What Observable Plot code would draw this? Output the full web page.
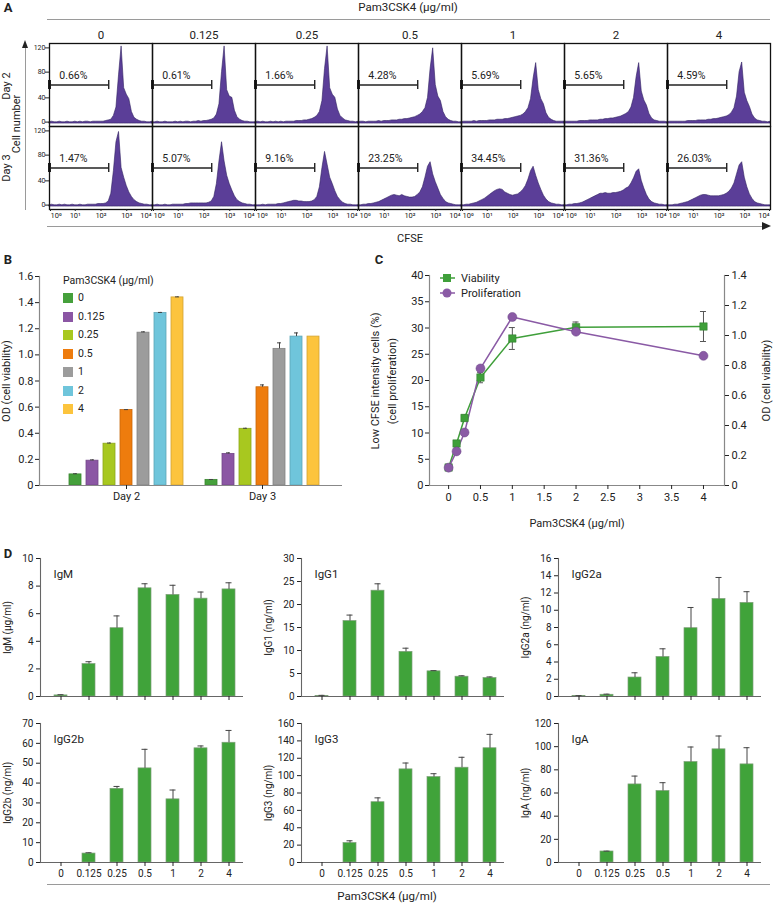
<!DOCTYPE html>
<html><head><meta charset="utf-8">
<script src="https://cdn.jsdelivr.net/npm/d3@7"></script>
<script src="https://cdn.jsdelivr.net/npm/@observablehq/plot@0.6"></script>
<style>
body{margin:0;background:#fff;font-family:Roboto,"Noto Sans",sans-serif;color:#222}
#page{position:relative;width:773px;height:903px;overflow:hidden;background:#fff}
#page svg{position:absolute;overflow:visible}
.t{position:absolute;white-space:nowrap;line-height:1;transform:translate(-50%,-50%)}
.r{position:absolute;white-space:nowrap;line-height:1;transform:translate(-50%,-50%) rotate(-90deg)}
.s{position:absolute;white-space:nowrap;line-height:1;transform:translate(0,-50%)}
</style></head><body><div id="page"></div>
<script>
// ---------- shared categories ----------
const concLabels = ["0", "0.125", "0.25", "0.5", "1", "2", "4"];
const days = ["Day 2", "Day 3"];

// ---------- panel A: CFSE histograms (log10 CFSE bins, counts) ----------
const cfseBins = [0,0.1,0.2,0.3,0.4,0.5,0.6,0.7,0.8,0.9,1,1.1,1.2,1.3,1.4,1.5,1.6,1.7,1.8,1.9,2,2.1,2.2,2.3,2.4,2.5,2.6,2.7,2.8,2.9,3,3.1,3.2,3.3,3.4,3.5,3.6,3.7,3.8,3.9,4];
const cfseTickLabels = ["10⁰", "10¹", "10²", "10³", "10⁴"];
const countTicksMid = [40, 80];
const day2Counts = [
  [2,3,2,2,3,2,2,3,2,2, 3,2,3,2,3,3,2,3,3,3, 3,3,4,5,6,12,25,75,120,55, 45,38,18,9,6,4,3,3,2,2,3],
  [2,2,3,2,2,3,2,2,2,3, 2,3,2,3,3,2,3,3,4,3, 4,4,5,6,8,14,30,80,120,52, 42,40,20,10,6,4,3,3,2,2,2],
  [2,3,2,3,2,2,3,2,3,2, 3,2,3,3,3,3,4,4,4,5, 5,6,7,9,12,18,35,85,120,55, 45,40,22,12,8,5,4,3,3,2,3],
  [2,3,3,2,3,3,3,3,4,3, 4,4,4,5,5,5,6,6,7,7, 8,9,10,12,14,18,24,40,85,117, 60,42,35,18,10,6,4,3,3,2,2],
  [2,3,3,3,3,4,3,4,4,4, 4,5,5,5,6,6,6,7,7,8, 9,10,11,12,14,18,24,38,70,94, 52,38,30,16,9,6,4,3,3,3,3],
  [3,3,3,3,3,3,4,4,4,4, 5,5,5,5,6,6,7,7,8,8, 9,10,11,13,15,18,25,40,72,94, 50,36,28,15,8,5,4,3,3,3,2],
  [2,3,3,3,3,3,3,3,4,4, 4,4,5,5,5,5,6,6,7,7, 8,9,10,11,13,17,24,42,80,95, 48,35,26,14,8,5,4,3,3,2,3]
];
const day3Counts = [
  [2,3,2,2,3,2,3,2,2,3, 2,2,3,2,2,3,3,3,3,4, 4,4,5,8,20,55,100,116,60,45, 32,22,15,10,7,5,4,3,3,2,2],
  [2,2,3,2,2,3,2,2,3,3, 3,3,3,4,4,5,5,5,5,5, 5,5,6,8,15,35,70,100,70,48, 35,25,16,10,7,5,4,3,3,2,2],
  [2,2,2,3,2,3,3,3,3,4, 4,5,6,7,8,9,9,8,8,7, 7,7,8,10,15,30,60,85,65,45, 35,24,15,10,6,4,3,3,2,2,2],
  [2,2,3,3,4,4,5,6,7,9, 11,13,15,17,18,17,16,18,16,15, 14,14,15,18,22,30,45,62,69,50, 38,28,18,12,7,5,4,3,2,2,2],
  [2,2,3,3,4,5,6,8,10,12, 15,18,21,24,26,27,26,22,20,18, 17,18,19,22,26,32,42,55,62,48, 36,26,17,11,7,5,4,3,3,2,2],
  [2,2,3,3,4,4,5,6,8,10, 12,14,16,18,20,20,21,20,20,21, 21,22,23,25,28,30,36,44,54,58, 40,28,18,11,7,5,4,3,3,2,2],
  [2,2,2,3,3,4,5,6,7,9, 11,13,15,17,18,18,17,16,16,16, 16,17,18,20,23,28,36,50,64,69, 45,30,19,12,7,5,4,3,2,2,2]
];
const day2Pct = ["0.66%", "0.61%", "1.66%", "4.28%", "5.69%", "5.65%", "4.59%"];
const day3Pct = ["1.47%", "5.07%", "9.16%", "23.25%", "34.45%", "31.36%", "26.03%"];
const gateEnd = 2.3, gateLevel = 60;

// ---------- panel B: OD by day ----------
const odColors = ["#45a03b", "#8b56a4", "#a8c81f", "#ee7c0d", "#9c9c9c", "#6fc5db", "#fcc43d"];
const odDay2 = [0.085, 0.19, 0.32, 0.578, 1.17, 1.32, 1.44];
const odDay2Err = [0.005, 0.006, 0.005, 0.003, 0.006, 0.005, 0.004];
const odDay3 = [0.043, 0.242, 0.434, 0.752, 1.046, 1.14, 1.14];
const odDay3Err = [0.003, 0.008, 0.004, 0.018, 0.046, 0.028, 0];
const odTicks = [0, 0.2, 0.4, 0.6, 0.8, 1.0, 1.2, 1.4, 1.6];

// ---------- panel C: dose response ----------
const doseX = [0, 0.125, 0.25, 0.5, 1, 2, 4];
const prolifPct = [3.4, 6.5, 10.1, 22.3, 32.1, 29.3, 24.7];
const viabOD = [0.12, 0.28, 0.45, 0.72, 0.98, 1.055, 1.06];
const viabODErr = [0.01, 0.015, 0.02, 0.035, 0.073, 0.035, 0.1];
const pctTicks = [0, 5, 10, 15, 20, 25, 30, 35, 40];
const odTicksC = [0, 0.2, 0.4, 0.6, 0.8, 1.0, 1.2, 1.4];
const doseTicks = [0, 0.5, 1, 1.5, 2, 2.5, 3, 3.5, 4];

// ---------- panel D: isotypes ----------
const isoNames = ["IgM", "IgG1", "IgG2a", "IgG2b", "IgG3", "IgA"];
const isoLabels = ["IgM (μg/ml)", "IgG1 (ng/ml)", "IgG2a (ng/ml)", "IgG2b (ng/ml)", "IgG3 (ng/ml)", "IgA (ng/ml)"];
const igM = [0.08, 2.35, 4.95, 7.84, 7.36, 7.09, 7.76];
const igMErr = [0.05, 0.17, 0.89, 0.33, 0.7, 0.48, 0.48];
const igG1 = [0.1, 16.4, 23.0, 9.7, 5.47, 4.3, 4.0];
const igG1Err = [0.15, 1.3, 1.5, 0.8, 0.15, 0.2, 0.25];
const igG2a = [0.05, 0.2, 2.2, 4.58, 7.92, 11.3, 10.85];
const igG2aErr = [0.05, 0.07, 0.55, 0.95, 2.4, 2.5, 1.3];
const igG2b = [0, 4.5, 37.1, 47.4, 31.8, 57.5, 60.3];
const igG2bErr = [0, 0.4, 1.2, 9.6, 4.7, 1.2, 6.2];
const igG3 = [0, 22.4, 69.4, 107.2, 98.3, 109.1, 131.5];
const igG3Err = [0, 2.6, 5, 7.3, 3.9, 12, 16];
const igA = [0, 9.5, 67.4, 61.7, 86.7, 97.7, 84.7];
const igAErr = [0, 0.3, 7.2, 7.2, 13, 11.5, 14.4];
const igMTicks = [0, 2, 4, 6, 8, 10];
const igG1Ticks = [0, 5, 10, 15, 20, 25, 30];
const igG2aTicks = [0, 2, 4, 6, 8, 10, 12, 14, 16];
const igG2bTicks = [0, 10, 20, 30, 40, 50, 60, 70];
const igG3Ticks = [0, 20, 40, 60, 80, 100, 120, 140, 160];
const igATicks = [0, 20, 40, 60, 80, 100, 120];

// ================= rendering =================
const FONT = "Roboto, 'Noto Sans', sans-serif";
const page = document.getElementById("page");
function place(svg, x, y) { svg.style.left = x + "px"; svg.style.top = y + "px"; page.appendChild(svg); return svg; }
function txt(s, x, y, size, cls = "t", extra = "") {
  const d = document.createElement("div"); d.className = cls; d.textContent = s;
  d.style.cssText += `left:${x}px;top:${y}px;font-size:${size}px;${extra}`; page.appendChild(d); return d;
}
function box(css) { const d = document.createElement("div"); d.style.cssText = "position:absolute;" + css; page.appendChild(d); return d; }
const baseStyle = {fontFamily: FONT, color: "#222", background: "transparent", overflow: "visible"};

// ---- Panel A ----
const hist = [];
[day2Counts, day3Counts].forEach((rows, di) => rows.forEach((counts, ci) =>
  counts.forEach((c, k) => hist.push({day: days[di], conc: concLabels[ci], x: cfseBins[k], count: c}))));
const gates = [];
[day2Pct, day3Pct].forEach((p, di) => p.forEach((t, ci) => gates.push({day: days[di], conc: concLabels[ci], pct: t})));

const yAxA = {fontSize: 7, tickSize: 4, tickPadding: 0, label: null};
const plotA = Plot.plot({
  width: 773, height: 205, marginLeft: 48, marginRight: 3, marginTop: 23, marginBottom: 16,
  style: baseStyle,
  fx: {domain: concLabels, padding: 0, label: null},
  fy: {domain: days, padding: 0, label: null, axis: null},
  x: {domain: [0, 4]},
  y: {domain: [-4.5, 124.5]},
  marks: [
    Plot.areaY(hist, {fx: "conc", fy: "day", x: "x", y: "count", fill: "#5b3e98", stroke: "#2f2060", strokeWidth: 0.6}),
    Plot.ruleY(gates, {fx: "conc", fy: "day", y: gateLevel, x1: 0, x2: gateEnd, stroke: "#222", strokeWidth: 1.4}),
    Plot.ruleX(gates, {fx: "conc", fy: "day", x: gateEnd, y1: gateLevel - 7, y2: gateLevel + 7, stroke: "#222", strokeWidth: 1.4}),
    Plot.ruleX(gates, {fx: "conc", fy: "day", x: 0, y1: gateLevel - 7, y2: gateLevel + 7, stroke: "#222", strokeWidth: 3}),
    Plot.text(gates, {fx: "conc", fy: "day", x: 0.38, y: 74, text: "pct", textAnchor: "start", fontSize: 10.5, fill: "#222"}),
    Plot.frame({stroke: "#111", strokeWidth: 1.3}),
    Plot.axisY({ticks: countTicksMid, ...yAxA}),
    Plot.axisY({ticks: [0], dy: -1.5, ...yAxA}),
    Plot.axisY({ticks: [120], dy: 1.5, ...yAxA}),
    Plot.axisX({ticks: [1, 2, 3], tickFormat: d => cfseTickLabels[d], fontSize: 7.5, tickSize: 2, tickPadding: 1, label: null}),
    Plot.axisX({ticks: [0], tickFormat: d => cfseTickLabels[d], textAnchor: "start", dx: 1, fontSize: 7.5, tickSize: 2, tickPadding: 1, label: null}),
    Plot.axisX({ticks: [4], tickFormat: d => cfseTickLabels[d], textAnchor: "end", dx: -1, fontSize: 7.5, tickSize: 2, tickPadding: 1, label: null}),
    Plot.axisFx({anchor: "top", label: null, tickSize: 0, tickPadding: 5, fontSize: 11.5})
  ]
});
place(plotA, 0, 20);

txt("A", 8, 7, 13, "t", "font-weight:bold");
txt("Pam3CSK4 (μg/ml)", 408, 8, 11.5);
box("left:47px;top:19px;width:723px;height:0;border-top:1.5px solid #9a9a9a");
txt("Day 2", 6, 86, 11, "r");
txt("Day 3", 6, 168, 11, "r");
txt("Cell number", 16, 124, 11, "r");
box("left:24.5px;top:47px;width:0;height:163px;border-left:1.5px solid #9a9a9a");
box("left:21.5px;top:40px;width:0;height:0;border-left:3.5px solid transparent;border-right:3.5px solid transparent;border-bottom:8px solid #222");
box("left:47px;top:225.5px;width:716px;height:0;border-top:1.5px solid #9a9a9a");
box("left:762px;top:222px;width:0;height:0;border-top:4px solid transparent;border-bottom:4px solid transparent;border-left:9px solid #222");
txt("CFSE", 410, 238, 11);

// ---- Panel B ----
const odRows = [];
[odDay2, odDay3].forEach((vals, di) => vals.forEach((v, ci) => odRows.push({
  key: days[di] + "|" + concLabels[ci], conc: concLabels[ci], v, e: [odDay2Err, odDay3Err][di][ci],
  color: odColors[ci], edge: d3.color(odColors[ci]).darker(0.5).formatHex()})));
const keysB = [...concLabels.map(c => days[0] + "|" + c), "gap", ...concLabels.map(c => days[1] + "|" + c)];
const plotB = Plot.plot({
  width: 350, height: 245, marginLeft: 39, marginRight: 8, marginTop: 16, marginBottom: 20,
  style: baseStyle,
  x: {domain: keysB, paddingInner: 0.275, paddingOuter: 1.087, align: 0.577},
  y: {domain: [0, 1.6]},
  color: {type: "identity"},
  marks: [
    Plot.barY(odRows, {x: "key", y: "v", fill: "color", stroke: "edge", strokeWidth: 0.8}),
    Plot.ruleX(odRows.filter(d => d.e > 0), {x: "key", y1: "v", y2: d => d.v + d.e, stroke: "#444", strokeWidth: 1}),
    Plot.tickY(odRows.filter(d => d.e > 0), {x: "key", y: d => d.v + d.e, insetLeft: 4, insetRight: 4, stroke: "#444", strokeWidth: 1}),
    Plot.ruleY([0], {stroke: "#888", strokeWidth: 1.2}),
    Plot.frame({anchor: "left", stroke: "#888", strokeWidth: 1.2}),
    Plot.axisY({ticks: odTicks, tickFormat: d => d === 0 ? "0" : d.toFixed(1), fontSize: 11, tickSize: 4, tickPadding: 2,
      label: "OD (cell viability)", labelAnchor: "center", labelArrow: "none", labelOffset: 37}),
    Plot.axisX({ticks: [days[0] + "|0.5", days[1] + "|0.5"], tickFormat: k => k.split("|")[0], tickSize: 4, tickPadding: 3, fontSize: 11, label: null})
  ]
});
place(plotB, 0, 260);
txt("B", 8, 259, 13, "t", "font-weight:bold");
txt("Pam3CSK4 (μg/ml)", 63, 281, 10.5, "s");
concLabels.forEach((c, i) => {
  const y = 298 + i * 18.5;
  box(`left:63px;top:${y - 5}px;width:10px;height:10px;background:${odColors[i]}`);
  txt(c, 78, y, 10.5, "s");
});

// ---- Panel C ----
const kC = 40 / 1.4;
const cRows = doseX.map((x, i) => ({x, p: prolifPct[i], v: viabOD[i] * kC, lo: (viabOD[i] - viabODErr[i]) * kC, hi: (viabOD[i] + viabODErr[i]) * kC}));
const GREEN = "#3f9f3a", PURPLE = "#8a5aa5";
const plotC = Plot.plot({
  width: 393, height: 270, marginLeft: 49, marginRight: 49, marginTop: 15, marginBottom: 45,
  style: baseStyle,
  x: {domain: [-0.3, 4.33]},
  y: {domain: [0, 40]},
  marks: [
    Plot.frame({anchor: "left", stroke: "#888", strokeWidth: 1.2}),
    Plot.frame({anchor: "right", stroke: "#888", strokeWidth: 1.2}),
    Plot.ruleY([0], {stroke: "#888", strokeWidth: 1.2}),
    Plot.ruleX(cRows, {x: "x", y1: "lo", y2: "hi", stroke: "#555", strokeWidth: 1}),
    Plot.ruleY(cRows, {y: "hi", x1: "x", x2: "x", insetLeft: -3, insetRight: -3, stroke: "#555", strokeWidth: 1}),
    Plot.ruleY(cRows, {y: "lo", x1: "x", x2: "x", insetLeft: -3, insetRight: -3, stroke: "#555", strokeWidth: 1}),
    Plot.line(cRows, {x: "x", y: "v", stroke: GREEN, strokeWidth: 1.5}),
    Plot.line(cRows, {x: "x", y: "p", stroke: PURPLE, strokeWidth: 1.5}),
    Plot.dot(cRows, {x: "x", y: "v", symbol: "square", r: 4.2, fill: GREEN, stroke: "#2d7a2a", strokeWidth: 0.5}),
    Plot.dot(cRows, {x: "x", y: "p", r: 4.5, fill: PURPLE, stroke: "#6b4487", strokeWidth: 0.5}),
    Plot.axisY({ticks: pctTicks, fontSize: 11, tickSize: 4, tickPadding: 2, label: null}),
    Plot.axisY({anchor: "right", ticks: odTicksC.map(v => v * kC), tickFormat: v => v === 0 ? "0" : (v / kC).toFixed(1),
      fontSize: 11, tickSize: 4, tickPadding: 3, label: "OD (cell viability)", labelAnchor: "center", labelArrow: "none", labelOffset: 45}),
    Plot.axisX({ticks: doseTicks, tickFormat: d => String(d), fontSize: 11, tickSize: 4, tickPadding: 4,
      label: "Pam3CSK4 (μg/ml)", labelAnchor: "center", labelArrow: "none", labelOffset: 41})
  ]
});
place(plotC, 380, 260);
txt("C", 379, 259, 13, "t", "font-weight:bold");
txt("Low CFSE intensity cells (%)", 375, 381, 11, "r");
txt("(cell proliferation)", 392, 381, 11, "r");
// legend C
const legC = document.createElementNS("http://www.w3.org/2000/svg", "svg");
legC.setAttribute("width", 26); legC.setAttribute("height", 30);
legC.innerHTML = `<line x1="2" x2="17" y1="5" y2="5" stroke="${GREEN}" stroke-width="1.5"/><rect x="5" y="1" width="8" height="8" fill="${GREEN}"/>
<line x1="2" x2="17" y1="20" y2="20" stroke="${PURPLE}" stroke-width="1.5"/><circle cx="9" cy="20" r="4.5" fill="${PURPLE}"/>`;
place(legC, 438, 273);
txt("Viability", 461, 278, 11, "s");
txt("Proliferation", 461, 293, 11, "s");

// ---- Panel D ----
function isoPlot(name, label, vals, errs, ticks, showX, ml) {
  const rows = concLabels.map((c, i) => ({c, v: vals[i], e: errs[i]}));
  return Plot.plot({
    width: ml + 203 + 5, height: showX ? 172 : 159,
    marginLeft: ml, marginRight: 5, marginTop: 13, marginBottom: showX ? 20 : 8,
    style: baseStyle,
    x: {domain: concLabels, paddingInner: 0.54, paddingOuter: 0.39, align: 0.62},
    y: {domain: [0, ticks[ticks.length - 1]]},
    marks: [
      Plot.barY(rows, {x: "c", y: "v", fill: "#40a33a", stroke: "#7d9f78", strokeWidth: 0.7}),
      Plot.ruleX(rows.filter(d => d.e > 0), {x: "c", y1: "v", y2: d => d.v + d.e, stroke: "#444", strokeWidth: 1}),
      Plot.tickY(rows.filter(d => d.e > 0), {x: "c", y: d => d.v + d.e, insetLeft: 3.5, insetRight: 3.5, stroke: "#444", strokeWidth: 1}),
      Plot.ruleY([0], {stroke: "#666", strokeWidth: 1.1}),
      Plot.frame({anchor: "left", stroke: "#666", strokeWidth: 1.1}),
      Plot.axisY({ticks, fontSize: 10, tickSize: 4, tickPadding: 3, label, labelAnchor: "center", labelArrow: "none", labelOffset: 37}),
      Plot.axisX({tickSize: 4, tickPadding: 3, fontSize: 10, label: null, tickFormat: showX ? (d => d) : (() => "")}),
      Plot.text([name], {frameAnchor: "top-left", dx: 13, dy: 11, fontSize: 11.5, textAnchor: "start", fill: "#222"})
    ]
  });
}
const isoVals = [igM, igG1, igG2a, igG2b, igG3, igA];
const isoErrs = [igMErr, igG1Err, igG2aErr, igG2bErr, igG3Err, igAErr];
const isoTicks = [igMTicks, igG1Ticks, igG2aTicks, igG2bTicks, igG3Ticks, igATicks];
const colLeft = [0, 258, 516], colMargin = [40, 43, 42], rowTop = [545, 710];
isoNames.forEach((n, i) => {
  const col = i % 3, row = Math.floor(i / 3);
  place(isoPlot(n, isoLabels[i], isoVals[i], isoErrs[i], isoTicks[i], row === 1, colMargin[col]), colLeft[col], rowTop[row]);
});
txt("D", 8, 553, 13, "t", "font-weight:bold");
box("left:47px;top:883.5px;width:723px;height:0;border-top:1.5px solid #9a9a9a");
txt("Pam3CSK4 (μg/ml)", 387, 897, 11.5);
</script></body></html>
